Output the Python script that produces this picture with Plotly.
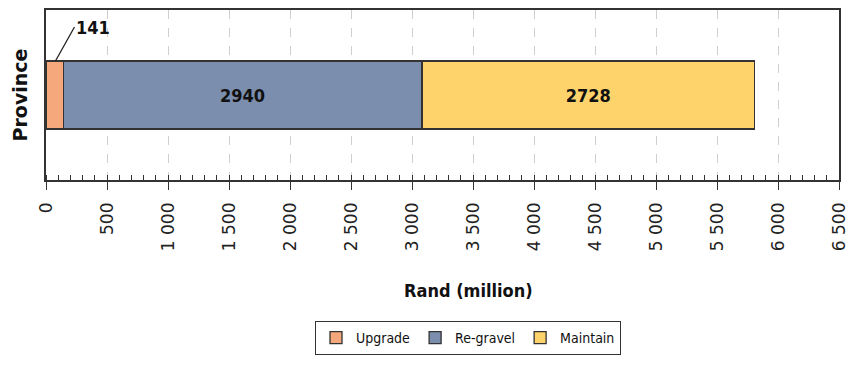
import plotly.graph_objects as go

categories = ["Province"]
series_names = ["Upgrade", "Re-gravel", "Maintain"]
upgrade = [141]
regravel = [2940]
maintain = [2728]
series_values = [upgrade, regravel, maintain]
colors = ["#F6A87D", "#7B8EAE", "#FFD36B"]
x_ticks = list(range(0, 6501, 500))

NARROW = "DejaVu Sans Condensed, Liberation Sans Narrow, Arial Narrow, sans-serif"

fig = go.Figure()
for name, vals, col in zip(series_names, series_values, colors):
    show_text = name != "Upgrade"
    fig.add_trace(go.Bar(
        name=name, y=categories, x=vals, orientation="h",
        marker=dict(color=col, line=dict(color="#333333", width=1.3)),
        text=[str(v) for v in vals] if show_text else None,
        textposition="inside" if show_text else "none",
        insidetextanchor="middle",
        textfont=dict(family=NARROW, size=18, color="#111111", weight="bold"),
        hoverinfo="x+name",
    ))

# leader-line label for the small Upgrade segment
fig.add_annotation(
    x=upgrade[0] * 0.55, y=0.2, xref="x", yref="y",
    text=f"<b>{upgrade[0]}</b>", showarrow=True, arrowhead=0,
    arrowwidth=1.3, arrowcolor="#222222",
    ax=19, ay=-34, xanchor="left", yanchor="middle",
    font=dict(family=NARROW, size=18, color="#111111"),
)

# x-axis title
fig.add_annotation(
    x=(470 - 46) / 795, y=-0.65, xref="paper", yref="paper",
    text="<b>Rand (million)</b>", showarrow=False,
    font=dict(family=NARROW, size=18, color="#111111"),
    xanchor="center", yanchor="middle",
)

fig.update_layout(
    width=849, height=365,
    margin=dict(l=46, r=10, t=10, b=177),
    barmode="stack", bargap=0.6,
    plot_bgcolor="white", paper_bgcolor="white",
    separators=". ",
    showlegend=True,
    legend=dict(
        orientation="h", x=(468 - 46) / 793, xanchor="center",
        y=-0.83, yanchor="top", traceorder="normal",
        bordercolor="#333333", borderwidth=1,
        font=dict(family=NARROW, size=14, color="#111111"),
        itemwidth=30, tracegroupgap=0,
    ),
    xaxis=dict(
        range=[0, 6500], tickvals=x_ticks, tickformat=",d",
        tickangle=-90, automargin=False, ticklabelstandoff=6,
        ticklabeloverflow="allow",
        tickfont=dict(family="DejaVu Sans, Arial, sans-serif", size=17, color="#222222"),
        ticks="outside", ticklen=8, tickwidth=1.3, tickcolor="#333333",
        showgrid=True, gridcolor="#CFCFCF", griddash="dash", gridwidth=1,
        minor=dict(dtick=100, ticks="inside", ticklen=5, tickwidth=1, tickcolor="#333333", showgrid=False),
        showline=True, linecolor="#333333", linewidth=1.5, mirror=True,
        zeroline=False,
    ),
    yaxis=dict(
        showticklabels=False, ticks="", automargin=False,
        showline=True, linecolor="#333333", linewidth=1.5, mirror=True,
        showgrid=False,
        title=dict(text="<b>Province</b>", standoff=12,
                   font=dict(family="DejaVu Sans, Arial, sans-serif", size=19, color="#111111")),
    ),
)

fig.write_html("out.html")
